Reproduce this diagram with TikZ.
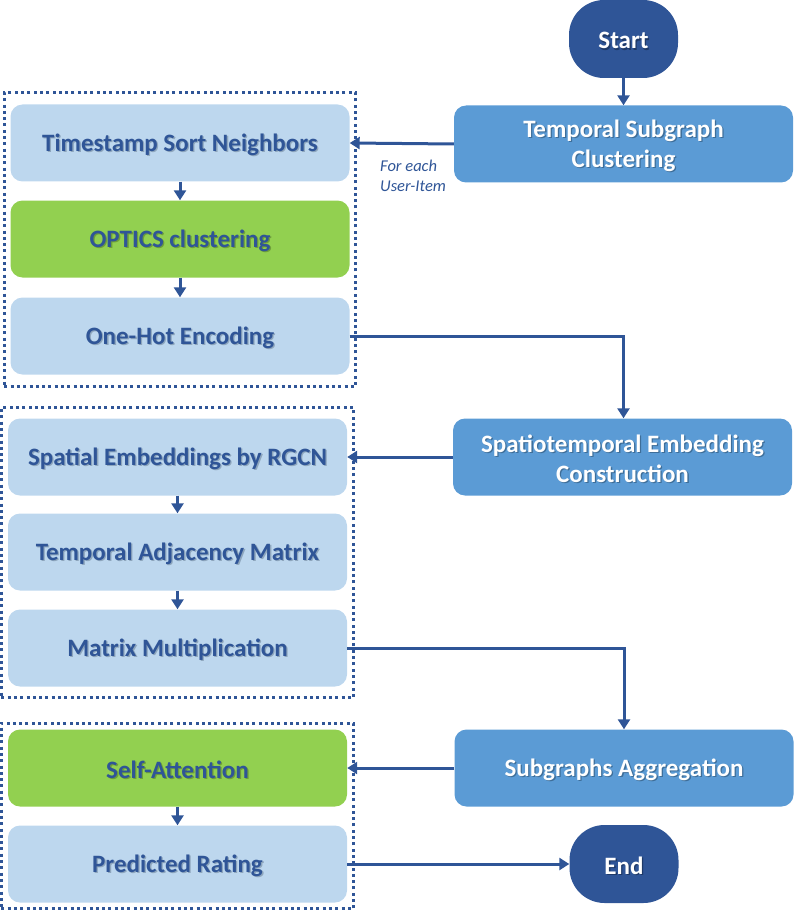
\documentclass[tikz,border=0pt]{standalone}
\usepackage{fontspec}
\setmainfont{Carlito}
\usetikzlibrary{arrows.meta,fit}
\definecolor{dkblue}{HTML}{2F5597}
\definecolor{mdblue}{HTML}{5B9BD5}
\definecolor{ltblue}{HTML}{BDD7EE}
\definecolor{grn}{HTML}{92D050}
\definecolor{shlt}{HTML}{8EA6BD}
\definecolor{shgr}{HTML}{6E9E3A}
\definecolor{shmd}{HTML}{3E6E99}
\definecolor{shdk}{HTML}{1F3A68}
\newcommand\shd[2]{\raisebox{-2.5pt}[\height][\depth]{\makebox[0pt][l]{\hspace{1.3pt}\raisebox{-1.3pt}{\textcolor{#1}{#2}}}#2}}
\begin{document}
\begin{tikzpicture}[x=1pt,y=-1pt,
  boxbase/.style={rectangle, rounded corners=12pt, minimum width=339pt, minimum height=77pt,
    align=center, inner sep=0pt, font=\bfseries\fontsize{25}{30}\selectfont},
  lightbox/.style={boxbase, fill=ltblue, text=dkblue},
  greenbox/.style={boxbase, fill=grn, text=dkblue},
  midbox/.style={boxbase, fill=mdblue, text=white},
  term/.style={rectangle, rounded corners=35pt, minimum width=109pt, minimum height=78pt,
    fill=dkblue, text=white, inner sep=0pt, font=\bfseries\fontsize{25}{30}\selectfont},
  flow/.style={draw=dkblue, line width=3pt, -{Triangle[length=10pt,width=12pt]}},
  groupbox/.style={draw=dkblue, line width=3pt, dash pattern=on 3pt off 3.3pt, rectangle, inner sep=0pt}
]
\useasboundingbox (0,0) rectangle (794,912);

% right column
\node[term] (start) at (623.5,39) {\shd{shdk}{Start}};
\node[midbox] (tsc) at (623.5,144) {\shd{shmd}{Temporal Subgraph}\\\shd{shmd}{Clustering}};
\node[midbox] (ste) at (622.5,457) {\shd{shmd}{Spatiotemporal Embedding}\\\shd{shmd}{Construction}};
\node[midbox] (sa) at (624,768) {\shd{shmd}{Subgraphs Aggregation}};
\node[term] (end) at (624,864) {\shd{shdk}{End}};

% left column, group 1
\node[lightbox] (tsn) at (180,143) {\shd{shlt}{Timestamp Sort Neighbors}};
\node[greenbox] (opt) at (180,239) {\shd{shgr}{OPTICS clustering}};
\node[lightbox] (ohe) at (180,336) {\shd{shlt}{One-Hot Encoding}};

% group 2
\node[lightbox] (seb) at (177.5,457) {\shd{shlt}{Spatial Embeddings by RGCN}};
\node[lightbox] (tam) at (177.5,552) {\shd{shlt}{Temporal Adjacency Matrix}};
\node[lightbox] (mm) at (177.5,648) {\shd{shlt}{Matrix Multiplication}};

% group 3
\node[greenbox] (att) at (177.5,768) {\shd{shgr}{Self-Attention}};
\node[lightbox] (pr) at (177.5,864) {\shd{shlt}{Predicted Rating}};

% dotted group frames
\node[groupbox, fit=(tsn)(ohe), inner xsep=6pt, inner ysep=11.5pt] (g1) {};
\node[groupbox, fit=(seb)(mm), inner xsep=6.5pt, inner ysep=10.5pt] (g2) {};
\node[groupbox, fit=(att)(pr), inner xsep=6.5pt, inner ysep=6pt] (g3) {};

% label
\node[anchor=north west, align=left, inner sep=0pt, text=dkblue,
  font=\itshape\fontsize{16.5}{20}\selectfont] (lbl) at (380,160) {For each\\User-Item};

% connectors
\draw[flow] (start) -- (tsc);
\draw[flow] (tsc.west) -- (tsn.east);
\draw[flow] (tsn) -- (opt);
\draw[flow] (opt) -- (ohe);
\draw[flow] (ohe.east) -| (ste.north -| start.south);
\draw[flow] (ste.west) -- (seb.east);
\draw[flow] (seb) -- (tam);
\draw[flow] (tam) -- (mm);
\draw[flow] (mm.east) -| (sa.north);
\draw[flow] (sa.west) -- (att.east);
\draw[flow] (att) -- (pr);
\draw[flow] (pr.east) -- (end.west);
\end{tikzpicture}
\end{document}
